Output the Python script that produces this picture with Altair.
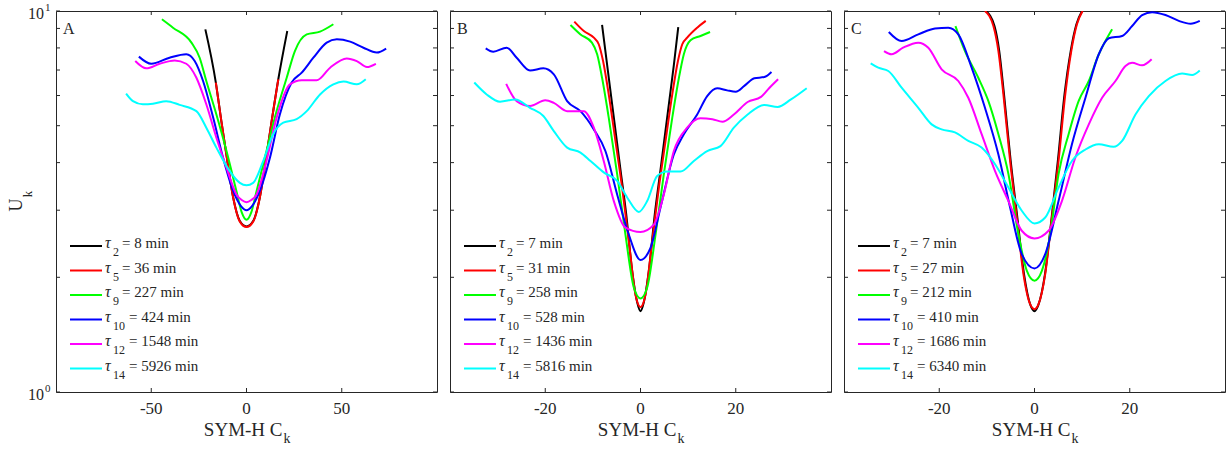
import altair as alt
import pandas as pd

# ---------------- data ----------------
SUBS = ["2", "5", "9", "10", "12", "14"]
COLORS = ["#000000", "#ff0000", "#00ff00", "#0000ff", "#ff00ff", "#00ffff"]

A_TAU = [8, 36, 227, 424, 1548, 5926]
B_TAU = [7, 31, 258, 528, 1436, 5816]
C_TAU = [7, 27, 212, 410, 1686, 6340]

# Panel A
A1_X = [-21.6, -16.1, -13.2, -10.5, -7, -3.5, 0, 3.5, 7, 10.5, 13.2, 16.7, 21.4]
A1_U = [8.95, 6.49, 5.14, 4.18, 3.24, 2.81, 2.72, 2.81, 3.24, 4.18, 5.14, 6.62, 8.86]
A2_X = [-16.1, -13.2, -10.5, -7, -3.5, 0, 3.5, 7, 10.5, 13.2, 16.7]
A2_U = [6.49, 5.14, 4.18, 3.24, 2.80, 2.71, 2.80, 3.24, 4.18, 5.14, 6.62]
A3_X = [-44.4, -38.6, -28.9, -24.6, -21.1, -15.8, -10.5, -5.3, -2.5, 0, 2.5, 5.3, 10.5, 15.8, 21.1, 25.4, 31.6, 38.6, 45.6]
A3_U = [9.51, 9.04, 8.26, 7.54, 6.55, 5.35, 4.29, 3.37, 2.96, 2.83, 2.96, 3.37, 4.29, 5.46, 6.68, 7.85, 8.68, 8.83, 9.23]
A4_X = [-56.5, -50, -40.4, -31.6, -27.2, -22.8, -17.5, -12.3, -7, -3, 0, 3, 7, 12.3, 17.5, 23.7, 29, 35.1, 42.1, 47.4, 54.4, 61.4, 68.4, 73.3]
A4_U = [7.59, 7.27, 7.54, 7.7, 7.39, 6.55, 5.25, 4.12, 3.37, 3.08, 3.0, 3.08, 3.37, 4.12, 5.35, 6.49, 6.89, 7.54, 8.26, 8.43, 8.31, 8.01, 7.78, 7.97]
A5_X = [-58.4, -52.6, -45.6, -37.7, -31.6, -26.3, -21.1, -15.8, -10.5, -5.3, -2.5, 0, 2.5, 5.3, 10.5, 15.8, 22.8, 29, 36.8, 43.9, 52.6, 57.9, 63.2, 67.9]
A5_U = [7.39, 7.07, 7.27, 7.42, 7.27, 6.68, 5.69, 4.65, 3.88, 3.3, 3.19, 3.15, 3.19, 3.3, 4.04, 5.25, 6.42, 6.58, 6.58, 7.1, 7.51, 7.39, 7.13, 7.27]
A6_X = [-63.2, -59.6, -54.4, -49.1, -42.1, -35.1, -26.3, -21.1, -15.8, -8.8, -3.5, 0, 3.5, 8.8, 14, 19.3, 26.3, 31.6, 38.6, 45.6, 50.9, 57.9, 62.6]
A6_U = [6.07, 5.8, 5.69, 5.71, 5.8, 5.67, 5.46, 4.94, 4.38, 3.8, 3.54, 3.49, 3.54, 4.04, 4.75, 5.09, 5.2, 5.46, 6.04, 6.42, 6.53, 6.42, 6.62]

# Panel B
B1_X = [-8.07, -7.02, -5.96, -4.2, -3.0, -1.75, -0.7, 0, 0.7, 1.75, 3.0, 4.2, 5.96, 7.02, 7.93]
B1_U = [9.19, 7.24, 5.7, 3.83, 2.93, 2.08, 1.72, 1.63, 1.72, 2.08, 2.93, 3.83, 5.7, 7.24, 9.07]
B2_X = [-13.9, -11.9, -9.8, -8.77, -7.86, -6.67, -5.26, -3.86, -2.46, -1.05, 0, 1.05, 2.46, 3.86, 5.26, 6.67, 7.86, 8.77, 9.8, 11.9, 13.7]
B2_U = [9.38, 8.86, 8.51, 8.18, 7.39, 6.04, 4.56, 3.44, 2.49, 1.80, 1.67, 1.80, 2.49, 3.44, 4.56, 6.04, 7.39, 8.18, 8.51, 9.04, 9.42]
B3_X = [-14.7, -12.6, -10.2, -9.1, -8.07, -6.67, -4.9, -3.16, -1.4, 0, 1.4, 3.16, 4.9, 6.67, 8.07, 9.1, 10.5, 12.6, 14.6]
B3_U = [9.19, 8.68, 8.26, 7.7, 6.68, 5.25, 3.73, 2.59, 1.88, 1.76, 1.88, 2.59, 3.73, 5.25, 6.68, 7.7, 8.38, 8.6, 8.81]
B4_X = [-32.5, -30.9, -28.1, -26, -23.2, -20.4, -18.2, -15.4, -12.6, -9.8, -7.37, -4.9, -2.46, 0, 2.1, 4.2, 7.0, 9.1, 11.9, 14, 16.1, 18.2, 20, 21.8, 23.9, 26, 27.5]
B4_U = [7.98, 7.82, 8.01, 7.54, 6.98, 7.07, 6.82, 5.8, 5.46, 4.89, 4.29, 3.3, 2.59, 2.22, 2.39, 3.05, 4.2, 4.75, 5.35, 5.98, 6.27, 6.19, 6.14, 6.36, 6.66, 6.71, 6.92]
B5_X = [-28.2, -26, -23.2, -20, -18.2, -15.4, -11.9, -9.8, -7.72, -5.6, -3.16, 0, 2.8, 4.9, 7.0, 9.8, 12.6, 15.1, 17.2, 19.6, 22.5, 25.3, 27, 28.9]
B5_U = [6.44, 5.8, 5.63, 5.83, 5.74, 5.46, 5.46, 4.94, 4.04, 3.17, 2.7, 2.63, 2.75, 3.3, 4.29, 4.94, 5.23, 5.2, 5.12, 5.35, 5.77, 5.95, 6.27, 6.62]
B6_X = [-34.9, -32.3, -29.5, -26.3, -23.2, -20.4, -18.2, -15.4, -12.6, -10.5, -7.72, -4.9, -2.8, -0.35, 1.4, 3.5, 5.6, 8.4, 11.2, 14, 16.8, 19.6, 22.5, 26, 28.8, 31.6, 34.9]
B6_U = [6.49, 6.04, 5.78, 5.86, 5.57, 5.3, 4.84, 4.38, 4.25, 4.04, 3.77, 3.58, 3.24, 2.97, 3.17, 3.69, 3.79, 3.79, 4.04, 4.29, 4.42, 4.94, 5.35, 5.67, 5.6, 5.86, 6.27]

# Panel C
C1_X = [-10.2, -8.4, -7.4, -6.4, -5.0, -3.6, -2.2, -0.85, 0, 0.8, 2.2, 3.6, 4.9, 6.3, 7.6, 8.8, 10.0]
C1_U = [10, 9.13, 7.85, 6.04, 4.04, 2.87, 2.04, 1.69, 1.63, 1.69, 2.04, 2.87, 4.04, 6.04, 7.85, 9.23, 10]
C2_X = [-10.4, -8.63, -7.58, -6.53, -5.12, -3.72, -2.32, -0.91, 0, 0.84, 2.25, 3.65, 5.05, 6.46, 7.72, 8.91, 10.1]
C2_U = [10, 9.13, 7.85, 6.04, 4.04, 2.87, 2.04, 1.70, 1.65, 1.70, 2.04, 2.87, 4.04, 6.04, 7.85, 9.23, 10]
C3_X = [-16.6, -14.6, -11.8, -9.68, -7.58, -5.47, -3.37, -1.6, 0, 1.54, 3.3, 5.05, 7.16, 9.26, 11.4, 13.5, 14.9, 16.3]
C3_U = [9.13, 7.85, 6.68, 5.8, 4.75, 3.73, 2.59, 2.08, 1.96, 2.08, 2.59, 3.73, 4.75, 5.8, 6.55, 7.7, 8.34, 8.95]
C4_X = [-30.6, -27.9, -24.4, -20.9, -18.1, -16, -13.2, -10.4, -7.58, -5.12, -2.67, 0, 2.25, 5.05, 7.86, 10.7, 13.5, 15.6, 18.4, 20.5, 22.6, 24.7, 27.5, 30.3, 32.8, 34.7]
C4_U = [8.81, 8.34, 8.68, 9.0, 9.04, 8.68, 7.1, 5.57, 4.2, 3.05, 2.3, 2.11, 2.3, 3.17, 4.47, 5.92, 7.7, 8.48, 8.6, 9.13, 9.76, 9.93, 9.76, 9.42, 9.26, 9.42]
C5_X = [-31.6, -30, -27.6, -24.4, -22.3, -19.5, -16, -13.9, -11.1, -8.28, -5.47, -2.67, 0, 2.95, 5.75, 8.56, 11.4, 14.2, 17, 19.1, 20.5, 22.6, 24.6]
C5_U = [7.85, 7.7, 8.01, 8.26, 8.01, 7.03, 6.55, 5.92, 4.75, 3.8, 3.17, 2.65, 2.53, 2.65, 3.17, 4.12, 5.04, 5.92, 6.55, 7.17, 7.31, 7.2, 7.47]
C6_X = [-34.4, -32.8, -30.7, -27.9, -24.4, -21.6, -19.5, -16.7, -13.9, -11.1, -8.28, -5.47, -2.67, 0, 2.25, 5.05, 7.86, 10.7, 13.5, 16.6, 18.4, 21.2, 24, 27.5, 31, 33.1, 34.7]
C6_U = [7.29, 7.1, 6.96, 6.29, 5.57, 5.04, 4.89, 4.8, 4.56, 4.38, 3.96, 3.44, 2.99, 2.77, 2.87, 3.44, 4.04, 4.33, 4.47, 4.4, 4.56, 5.35, 5.98, 6.55, 6.85, 6.79, 6.98]

A_XTICKS = [-50, 0, 50]
BC_XTICKS = [-20, 0, 20]
Y_MINOR = [1, 2, 3, 4, 5, 6, 7, 8, 9, 10]

# ---------------- styling ----------------
W = 381
H = 381
FONT = "Liberation Serif"
INK = "#262626"
SERIES = [f"s{i}" for i in range(6)]


def panel(letter, series, taus, xdom, xticks, first):
    rows = []
    for i, (xs, us) in enumerate(series):
        for k, (x, u) in enumerate(zip(xs, us)):
            rows.append({"s": SERIES[i], "k": k, "x": x, "u": u})
    df = pd.DataFrame(rows)
    xsc = alt.Scale(domain=xdom, nice=False, zero=False)
    ysc = alt.Scale(type="log", domain=[1, 10], nice=False)

    lines = alt.Chart(df).mark_line(strokeWidth=2, clip=True, interpolate="monotone").encode(
        x=alt.X("x:Q", scale=xsc, axis=None),
        y=alt.Y("u:Q", scale=ysc, axis=None),
        color=alt.Color("s:N", scale=alt.Scale(domain=SERIES, range=COLORS), legend=None),
        order=alt.Order("k:Q"),
    )

    ydf = pd.DataFrame({"v": Y_MINOR})
    xdf = pd.DataFrame({"v": xticks, "lab": [str(t) for t in xticks]})
    base_y = alt.Chart(ydf)
    base_x = alt.Chart(xdf)
    tl = base_y.mark_rule(color=INK, strokeWidth=1).encode(
        y=alt.Y("v:Q", scale=ysc, axis=None), x=alt.value(0), x2=alt.value(4))
    tr = base_y.mark_rule(color=INK, strokeWidth=1).encode(
        y=alt.Y("v:Q", scale=ysc, axis=None), x=alt.value(W - 4), x2=alt.value(W))
    tb = base_x.mark_rule(color=INK, strokeWidth=1).encode(
        x=alt.X("v:Q", scale=xsc, axis=None), y=alt.value(H - 4), y2=alt.value(H))
    tt = base_x.mark_rule(color=INK, strokeWidth=1).encode(
        x=alt.X("v:Q", scale=xsc, axis=None), y=alt.value(0), y2=alt.value(4))
    xl = base_x.mark_text(font=FONT, fontSize=17, color=INK, baseline="alphabetic", align="center").encode(
        x=alt.X("v:Q", scale=xsc, axis=None), y=alt.value(H + 22), text="lab:N")

    xt1 = alt.Chart(pd.DataFrame({"t": ["SYM-H C"]})).mark_text(
        font=FONT, fontSize=19, color=INK, align="right", baseline="alphabetic").encode(
        x=alt.value(W / 2 + 36), y=alt.value(H + 44), text="t:N")
    xt2 = alt.Chart(pd.DataFrame({"t": ["k"]})).mark_text(
        font=FONT, fontSize=14, color=INK, align="left", baseline="alphabetic").encode(
        x=alt.value(W / 2 + 37), y=alt.value(H + 51), text="t:N")

    let = alt.Chart(pd.DataFrame({"t": [letter]})).mark_text(
        font=FONT, fontSize=16, color=INK, align="left", baseline="alphabetic").encode(
        x=alt.value(7), y=alt.value(23), text="t:N")

    ldf = pd.DataFrame({
        "c": COLORS,
        "sub": SUBS,
        "rest": [f"= {t} min" for t in taus],
        "ly": [235 + 24.5 * i for i in range(6)],
        "rx": [66 if len(s) == 1 else 73 for s in SUBS],
    })
    lb = alt.Chart(ldf)
    lrule = lb.mark_rule(strokeWidth=2).encode(
        x=alt.value(14), x2=alt.value(46), y=alt.Y("ly:Q", scale=None),
        color=alt.Color("c:N", scale=None, legend=None))
    ltau = lb.mark_text(font=FONT, fontSize=16, fontStyle="italic", color=INK, align="left",
                        baseline="alphabetic", dy=2).encode(
        x=alt.value(49), y=alt.Y("ly:Q", scale=None), text=alt.value("τ"))
    lsub = lb.mark_text(font=FONT, fontSize=12, color=INK, align="left",
                        baseline="alphabetic", dy=10).encode(
        x=alt.value(57), y=alt.Y("ly:Q", scale=None), text="sub:N")
    lrest = lb.mark_text(font=FONT, fontSize=15, color=INK, align="left",
                         baseline="alphabetic", dy=2).encode(
        x=alt.X("rx:Q", scale=None), y=alt.Y("ly:Q", scale=None), text="rest:N")

    layers = [lines, tl, tr, tb, tt, xl, xt1, xt2, let, lrule, ltau, lsub, lrest]

    if first:
        frame = alt.Chart(pd.DataFrame({"a": [0]})).mark_rect(opacity=0).encode(
            x=alt.value(-55), x2=alt.value(0), y=alt.value(-10), y2=alt.value(H + 58))
        ylab = pd.DataFrame({"v": [1, 10], "sup": ["0", "1"]})
        yb = alt.Chart(ylab)
        y10 = yb.mark_text(font=FONT, fontSize=16, color=INK, align="right",
                           baseline="alphabetic", dy=8).encode(
            x=alt.value(-12), y=alt.Y("v:Q", scale=ysc, axis=None), text=alt.value("10"))
        ysup = yb.mark_text(font=FONT, fontSize=11, color=INK, align="left",
                            baseline="alphabetic", dy=0).encode(
            x=alt.value(-11), y=alt.Y("v:Q", scale=ysc, axis=None), text="sup:N")
        yt1 = alt.Chart(pd.DataFrame({"t": ["U"]})).mark_text(
            font=FONT, fontSize=18, color=INK, angle=270, align="center", baseline="middle").encode(
            x=alt.value(-39), y=alt.value(194), text="t:N")
        yt2 = alt.Chart(pd.DataFrame({"t": ["k"]})).mark_text(
            font=FONT, fontSize=13, color=INK, angle=270, align="center", baseline="middle").encode(
            x=alt.value(-28), y=alt.value(183), text="t:N")
        layers = [frame] + layers + [y10, ysup, yt1, yt2]

    return alt.layer(*layers).properties(width=W, height=H)


pa = panel("A", [(A1_X, A1_U), (A2_X, A2_U), (A3_X, A3_U), (A4_X, A4_U), (A5_X, A5_U), (A6_X, A6_U)],
           A_TAU, [-100, 100], A_XTICKS, True)
pb = panel("B", [(B1_X, B1_U), (B2_X, B2_U), (B3_X, B3_U), (B4_X, B4_U), (B5_X, B5_U), (B6_X, B6_U)],
           B_TAU, [-40, 40], BC_XTICKS, False)
pc = panel("C", [(C1_X, C1_U), (C2_X, C2_U), (C3_X, C3_U), (C4_X, C4_U), (C5_X, C5_U), (C6_X, C6_U)],
           C_TAU, [-40, 40], BC_XTICKS, False)

chart = alt.hconcat(pa, pb, pc, spacing=13, bounds="flush").resolve_scale(
    x="independent", y="independent", color="independent"
).configure(padding={"left": 0, "top": 0, "right": 0, "bottom": 0}).configure_view(
    stroke=INK, strokeWidth=1
).properties(background="white")

chart.save("out.html", embed_options={"renderer": "svg", "actions": False})
